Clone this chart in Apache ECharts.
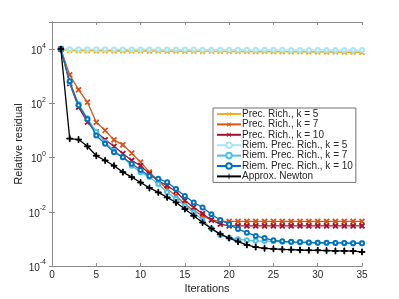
<!DOCTYPE html>
<html>
<head>
<meta charset="utf-8">
<script src="https://cdn.jsdelivr.net/npm/echarts@6/dist/echarts.min.js"></script>
<style>html,body{margin:0;padding:0;background:#fff;}#c{width:399px;height:299px;}</style>
</head>
<body>
<div id="c"></div>
<script>
var iterations = [1,2,3,4,5,6,7,8,9,10,11,12,13,14,15,16,17,18,19,20,21,22,23,24,25,26,27,28,29,30,31,32,33,34,35];

var precRichK5 = [1e4,8900,8800,8850,8700,8750,8600,8700,8550,8600,8500,8550,8400,8500,8350,8400,8300,8350,8250,8300,8200,8250,8100,8200,8050,8100,8000,8050,7900,7950,7850,7900,7700,7800,7600];
var precRichK7 = [1e4,1120,316,110,20,10,4.5,2.95,1.45,0.68,0.29,0.14,0.069,0.039,0.0195,0.011,0.0071,0.0050,0.0044,0.0044,0.0044,0.0044,0.0044,0.0044,0.0044,0.0044,0.0044,0.0044,0.0044,0.0044,0.0044,0.0044,0.0044,0.0044,0.0044];
var precRichK10 = [1e4,537,72,20.4,8.9,4.5,2.6,1.41,0.78,0.50,0.25,0.14,0.091,0.056,0.026,0.0145,0.0085,0.0050,0.0035,0.0030,0.0030,0.0030,0.0030,0.0030,0.0030,0.0030,0.0030,0.0030,0.0030,0.0030,0.0030,0.0030,0.0030,0.0030,0.0030];
var riemK5 = [1e4,9900,9850,9850,9800,9800,9750,9750,9700,9700,9700,9650,9650,9600,9600,9600,9550,9550,9500,9500,9500,9450,9450,9400,9400,9400,9350,9350,9300,9300,9300,9250,9250,9200,9200];
var riemK7 = [1e4,600,95,28,8.9,3.7,1.8,1.02,0.5,0.29,0.19,0.105,0.052,0.030,0.0166,0.0095,0.0050,0.0024,0.0014,0.0011,0.00098,0.00089,0.00085,0.00083,0.00081,0.00078,0.00076,0.00074,0.00072,0.00072,0.00071,0.00071,0.00069,0.00069,0.00069];
var riemK10 = [1e4,646,85,25.7,6.5,3.2,1.58,1.02,0.59,0.35,0.21,0.166,0.123,0.069,0.038,0.022,0.0145,0.0081,0.0050,0.0035,0.0023,0.0017,0.00129,0.00107,0.00089,0.00081,0.00078,0.00076,0.00074,0.00072,0.00072,0.00071,0.00071,0.00069,0.00069];
var approxNewton = [1e4,5.0,4.6,2.6,1.17,0.78,0.50,0.29,0.19,0.12,0.076,0.052,0.034,0.022,0.0126,0.0071,0.0040,0.0024,0.0015,0.00107,0.00079,0.00060,0.00050,0.00045,0.00043,0.00041,0.00040,0.00039,0.00038,0.00038,0.00037,0.00036,0.00036,0.000355,0.00033];

var seriesNames = ['Prec. Rich., k = 5','Prec. Rich., k = 7','Prec. Rich., k = 10','Riem. Prec. Rich., k = 5','Riem. Prec. Rich., k = 7','Riem. Prec. Rich., k = 10','Approx. Newton'];
var xTicks = [0,5,10,15,20,25,30,35];
var yTickExponents = [-4,-2,0,2,4];

var plusPath = 'path://M4.3,0h1.4v10h-1.4z M0,4.3h10v1.4h-10z';
var colors = ['#EDB120','#D95319','#A2142F','#A8E6F8','#4DBEEE','#0072BD','#000000'];
var allData = [precRichK5, precRichK7, precRichK10, riemK5, riemK7, riemK10, approxNewton];

function pairs(arr){ return arr.map(function(v,i){ return [iterations[i], v]; }); }

var series = allData.map(function(arr, k){
  var isRiem = (k >= 3 && k <= 5);
  var isNewton = (k === 6);
  var s = {
    name: seriesNames[k],
    type: 'line',
    data: pairs(arr),
    xAxisIndex: 0, yAxisIndex: 0,
    animation: false,
    z: 2 + k,
    lineStyle: {color: colors[k], width: 1.3},
    itemStyle: {color: colors[k], borderColor: colors[k]},
    emphasis: {disabled: true}
  };
  if (isRiem) {
    s.symbol = 'emptyCircle';
    s.symbolSize = 4;
    s.itemStyle.borderWidth = 1.1;
  } else if (isNewton) {
    s.symbol = plusPath;
    s.symbolSize = 6;
  } else {
    s.symbol = plusPath;
    s.symbolSize = 6;
    s.symbolRotate = 45;
  }
  if (k === 0) s.lineStyle.width = 1.6;
  return s;
});

var textColor = '#262626';
var axisColor = '#8a8a8a';

var chart = echarts.init(document.getElementById('c'), null, {renderer: 'canvas'});
chart.setOption({
  backgroundColor: '#fff',
  animation: false,
  grid: {left: 52, right: 37, top: 22, bottom: 33, containLabel: false},
  legend: {
    orient: 'vertical',
    left: 213, top: 108,
    data: seriesNames,
    itemWidth: 24, itemHeight: 7, itemGap: 0.4,
    padding: [1, 3, 1, 3],
    backgroundColor: '#fff',
    borderColor: '#707070', borderWidth: 1,
    selectedMode: false,
    textStyle: {fontFamily: 'Liberation Sans', fontSize: 10, lineHeight: 8.5, color: textColor, padding: [0,0,0,-4]}
  },
  xAxis: [{
    type: 'value', min: 0, max: 35, interval: 5,
    name: 'Iterations', nameLocation: 'middle', nameGap: 17, nameMoveOverlap: false,
    nameTextStyle: {fontFamily: 'Liberation Sans', fontSize: 11, color: textColor},
    axisLine: {show: true, lineStyle: {color: axisColor, width: 1}},
    axisTick: {show: true, inside: true, length: 3, lineStyle: {color: axisColor}},
    axisLabel: {fontFamily: 'Liberation Sans', fontSize: 10, color: textColor, margin: 4,
      formatter: function(v){ return xTicks.indexOf(v) >= 0 ? String(v) : ''; }},
    splitLine: {show: false}
  }, {
    type: 'value', min: 0, max: 35, interval: 5, position: 'top',
    axisLine: {show: true, lineStyle: {color: axisColor, width: 1}},
    axisTick: {show: true, inside: true, length: 3, lineStyle: {color: axisColor}},
    axisLabel: {show: false}, splitLine: {show: false}
  }],
  yAxis: [{
    type: 'log', logBase: 10, min: 1e-4, max: 1e5, interval: 2,
    name: 'Relative residual', nameLocation: 'middle', nameGap: 28, nameRotate: 90, nameMoveOverlap: false,
    nameTextStyle: {fontFamily: 'Liberation Sans', fontSize: 11, color: textColor},
    axisLine: {show: true, lineStyle: {color: axisColor, width: 1}},
    axisTick: {show: true, inside: true, length: 3, lineStyle: {color: axisColor}},
    axisLabel: {
      showMaxLabel: false, margin: 6,
      formatter: function(v){
        var e = Math.round(Math.log10(v));
        if (yTickExponents.indexOf(e) < 0) return '';
        return '{b|10}{s|' + e + '}';
      },
      rich: {
        b: {fontFamily: 'Liberation Sans', fontSize: 10, color: textColor, verticalAlign: 'bottom', lineHeight: 14},
        s: {fontFamily: 'Liberation Sans', fontSize: 7, color: textColor, verticalAlign: 'top', lineHeight: 14, padding: [0,0,6,0]}
      }
    },
    splitLine: {show: false}
  }, {
    type: 'log', logBase: 10, min: 1e-4, max: 1e5, interval: 2, position: 'right',
    axisLine: {show: true, lineStyle: {color: axisColor, width: 1}},
    axisTick: {show: true, inside: true, length: 3, lineStyle: {color: axisColor}},
    axisLabel: {show: false}, splitLine: {show: false}
  }],
  series: series
});
</script>
</body>
</html>
